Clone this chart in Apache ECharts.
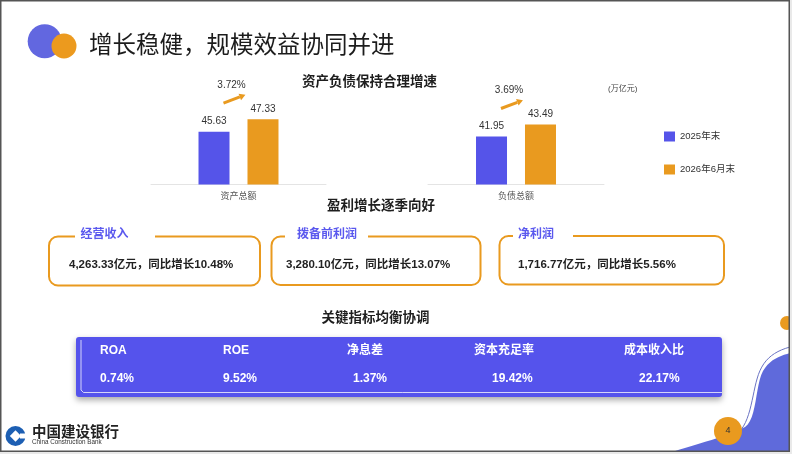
<!DOCTYPE html>
<html>
<head>
<meta charset="utf-8">
<script src="https://cdn.jsdelivr.net/npm/echarts@6/dist/echarts.min.js"></script>
<style>
  html, body { margin: 0; padding: 0; background: #e9e9e9; }
  #main { width: 792px; height: 454px; }
</style>
</head>
<body>
<div id="main"></div>
<script>
// 数据
var categories = ['资产总额', '负债总额'];
var values2025 = [45.63, 41.95];
var values2026 = [47.33, 43.49];
var growthRates = ['3.72%', '3.69%'];
var seriesNames = ['2025年末', '2026年6月末'];

var profitTitles = ['经营收入', '拨备前利润', '净利润'];
var profitTexts = ['4,263.33亿元，同比增长10.48%', '3,280.10亿元，同比增长13.07%', '1,716.77亿元，同比增长5.56%'];

var kpiNames = ['ROA', 'ROE', '净息差', '资本充足率', '成本收入比'];
var kpiValues = ['0.74%', '9.52%', '1.37%', '19.42%', '22.17%'];

// 布局
var FONT = "'Liberation Sans', 'Noto Sans CJK SC', sans-serif";
var BLUE = '#5554E9';
var ORANGE = '#E99A1F';
var boxes = [
  { x: 49, y: 236.5, w: 211, h: 49, gap: [75, 155], tx: 80.5, vx: 69 },
  { x: 271.5, y: 236.5, w: 209, h: 48.5, gap: [285, 368], tx: 297, vx: 286 },
  { x: 499.5, y: 236, w: 224.5, h: 48.5, gap: [513, 573], tx: 518, vx: 518 }
];
var kpiLabelX = [100, 223, 347, 474, 624];
var kpiValueX = [100, 223, 353, 492, 639];

var chart = echarts.init(document.getElementById('main'));

function barSeries(gi) {
  return [
    {
      name: seriesNames[0], type: 'bar', xAxisIndex: gi, yAxisIndex: gi,
      data: [values2025[gi]], barWidth: 31, barGap: '58%',
      itemStyle: { color: BLUE },
      label: { show: true, position: 'top', distance: 5, color: '#333', fontSize: 10, fontFamily: FONT }
    },
    {
      name: seriesNames[1], type: 'bar', xAxisIndex: gi, yAxisIndex: gi,
      data: [values2026[gi]], barWidth: 31, barGap: '58%',
      itemStyle: { color: ORANGE },
      label: { show: true, position: 'top', distance: 5, color: '#333', fontSize: 10, fontFamily: FONT }
    }
  ];
}

var option = {
  backgroundColor: '#fff',
  animation: false,
  textStyle: { fontFamily: FONT },
  legend: {
    data: seriesNames,
    orient: 'vertical',
    left: 659, top: 126.5,
    itemWidth: 11, itemHeight: 10, itemGap: 23,
    icon: 'rect',
    textStyle: { fontSize: 9.5, color: '#333', fontFamily: FONT }
  },
  grid: [
    { left: 151, width: 175, top: 110.5, height: 74 },
    { left: 428, width: 176, top: 106.5, height: 78 }
  ],
  xAxis: [0, 1].map(function (i) {
    return {
      type: 'category', gridIndex: i, data: [categories[i]],
      axisLine: { onZero: false, lineStyle: { color: '#e4e4e4' } },
      axisTick: { show: false },
      axisLabel: { color: '#555', fontSize: 9, margin: 8, fontFamily: FONT }
    };
  }),
  yAxis: [
    { type: 'value', gridIndex: 0, min: 38.5, max: 48.5, show: false, splitLine: { show: false } },
    { type: 'value', gridIndex: 1, min: 35.8, max: 45.8, show: false, splitLine: { show: false } }
  ],
  series: barSeries(0).concat(barSeries(1))
};
chart.setOption(option);

// 三次贝塞尔取点
function bez(p0, p1, p2, p3, n) {
  var pts = [];
  for (var k = 0; k <= n; k++) {
    var t = k / n, s = 1 - t;
    pts.push([
      s * s * s * p0[0] + 3 * s * s * t * p1[0] + 3 * s * t * t * p2[0] + t * t * t * p3[0],
      s * s * s * p0[1] + 3 * s * s * t * p1[1] + 3 * s * t * t * p2[1] + t * t * t * p3[1]
    ]);
  }
  return pts;
}

// 装饰与文字
var g = [];
// 主标题
g.push({ type: 'circle', shape: { cx: 44.7, cy: 41.3, r: 17 }, style: { fill: '#6267E0' } });
g.push({ type: 'circle', shape: { cx: 64, cy: 46, r: 12.5 }, style: { fill: '#EC9A1E' } });
g.push({ type: 'text', x: 89, y: 47, style: { text: '增长稳健，规模效益协同并进', fill: '#1c1c1c', font: 'normal 23.5px ' + FONT, textVerticalAlign: 'middle' } });

// 小标题
[['资产负债保持合理增速', 369.5, 82], ['盈利增长逐季向好', 381, 206.7], ['关键指标均衡协调', 375.5, 318]].forEach(function (t) {
  g.push({ type: 'text', x: t[1], y: t[2], style: { text: t[0], fill: '#1e1e1e', font: 'bold 13.5px ' + FONT, textAlign: 'center', textVerticalAlign: 'middle' } });
});
g.push({ type: 'text', x: 608, y: 89, style: { text: '(万亿元)', fill: '#444', font: '8px ' + FONT, textVerticalAlign: 'middle' } });

// 盈利卡片
boxes.forEach(function (b, i) {
  g.push({ type: 'rect', shape: { x: b.x, y: b.y, width: b.w, height: b.h, r: 9 }, style: { fill: '#fff', stroke: ORANGE, lineWidth: 2 } });
  g.push({ type: 'rect', shape: { x: b.gap[0], y: b.y - 4, width: b.gap[1] - b.gap[0], height: 8 }, style: { fill: '#fff' } });
  g.push({ type: 'text', x: b.tx, y: b.y - 1.5, style: { text: profitTitles[i], fill: '#5a58ee', font: 'bold 12px ' + FONT, textVerticalAlign: 'middle' } });
  g.push({ type: 'text', x: b.vx, y: b.y + 28.8, style: { text: profitTexts[i], fill: '#222', font: 'bold 11.5px ' + FONT, textVerticalAlign: 'middle' } });
});

// 关键指标面板
g.push({ type: 'rect', shape: { x: 76, y: 337, width: 646, height: 60, r: 3 }, style: { fill: '#5553EC', shadowBlur: 6, shadowOffsetY: 3, shadowColor: 'rgba(0,0,0,0.35)' } });
g.push({ type: 'polyline', shape: { points: [[81, 340], [81, 390], [83.5, 392.5], [722, 392.5]] }, style: { stroke: 'rgba(255,255,255,0.75)', lineWidth: 1, fill: null } });
kpiNames.forEach(function (n, i) {
  g.push({ type: 'text', x: kpiLabelX[i], y: 350.5, style: { text: n, fill: '#fff', font: 'bold 12px ' + FONT, textVerticalAlign: 'middle' } });
  g.push({ type: 'text', x: kpiValueX[i], y: 378.3, style: { text: kpiValues[i], fill: '#fff', font: 'bold 12px ' + FONT, textVerticalAlign: 'middle' } });
});

// 右下角装饰
var wave = bez([672, 452], [700, 443], [725, 437], [745, 427], 12)
  .concat(bez([745, 427], [757, 419], [755, 386], [763, 371], 12))
  .concat(bez([763, 371], [770, 359], [780, 356], [790, 353], 10));
wave.push([790, 452]);
g.push({ type: 'polygon', shape: { points: wave }, style: { fill: '#5F6ADB' } });
var thin = bez([736, 434], [750, 426], [752, 396], [757, 379], 14)
  .concat(bez([757, 379], [762, 361], [772, 352], [790, 347], 12));
g.push({ type: 'polyline', shape: { points: thin }, style: { stroke: '#6b74c4', lineWidth: 1, fill: null } });
g.push({ type: 'circle', shape: { cx: 728, cy: 431, r: 14 }, style: { fill: ORANGE } });
g.push({ type: 'text', x: 728, y: 431, style: { text: '4', fill: '#333', font: '9px ' + FONT, textAlign: 'center', textVerticalAlign: 'middle' } });
g.push({ type: 'circle', shape: { cx: 787, cy: 323, r: 7 }, style: { fill: ORANGE } });

// 建设银行标识
g.push({ type: 'circle', shape: { cx: 15.5, cy: 436, r: 10 }, style: { fill: '#1d5fb3' } });
g.push({ type: 'rect', x: 15.5, y: 436, rotation: Math.PI / 4, shape: { x: -4, y: -4, width: 8, height: 8 }, style: { fill: '#fff' } });
g.push({ type: 'rect', shape: { x: 20, y: 433.5, width: 7, height: 5 }, style: { fill: '#fff' } });
g.push({ type: 'text', x: 32, y: 433, style: { text: '中国建设银行', fill: '#222', font: 'bold 14.5px ' + FONT, textVerticalAlign: 'middle' } });
g.push({ type: 'text', x: 32, y: 442.5, style: { text: 'China Construction Bank', fill: '#333', font: '6.3px ' + FONT, textVerticalAlign: 'middle' } });

// 增长箭头，按柱子位置计算
categories.forEach(function (c, i) {
  var cx = chart.convertToPixel({ xAxisIndex: i }, c);
  var yTop = chart.convertToPixel({ yAxisIndex: i }, values2026[i]);
  var x1 = cx - 15, y1 = yTop - 16, x2 = cx + 6, y2 = yTop - 24;
  var dx = x2 - x1, dy = y2 - y1, len = Math.sqrt(dx * dx + dy * dy);
  var ux = dx / len, uy = dy / len;
  var bx = x2 - ux * 5, by = y2 - uy * 5;
  g.push({ type: 'line', shape: { x1: x1, y1: y1, x2: bx, y2: by }, style: { stroke: ORANGE, lineWidth: 3 } });
  g.push({ type: 'polygon', shape: { points: [[x2 + ux, y2 + uy], [bx - uy * 3.5, by + ux * 3.5], [bx + uy * 3.5, by - ux * 3.5]] }, style: { fill: ORANGE } });
  g.push({ type: 'text', x: cx - 7, y: yTop - 34, style: { text: growthRates[i], fill: '#333', font: '10px ' + FONT, textAlign: 'center', textVerticalAlign: 'middle' } });
});

// 外框
g.push({ type: 'rect', shape: { x: 790, y: 0, width: 2, height: 454 }, style: { fill: '#e9e9e9' } });
g.push({ type: 'rect', shape: { x: 0, y: 452, width: 792, height: 2 }, style: { fill: '#e9e9e9' } });
g.push({ type: 'rect', shape: { x: 0.75, y: 0.75, width: 788.5, height: 450.5 }, style: { fill: null, stroke: '#555', lineWidth: 1.5 }, z: 100 });

chart.setOption({ graphic: { elements: g } });
</script>
</body>
</html>
